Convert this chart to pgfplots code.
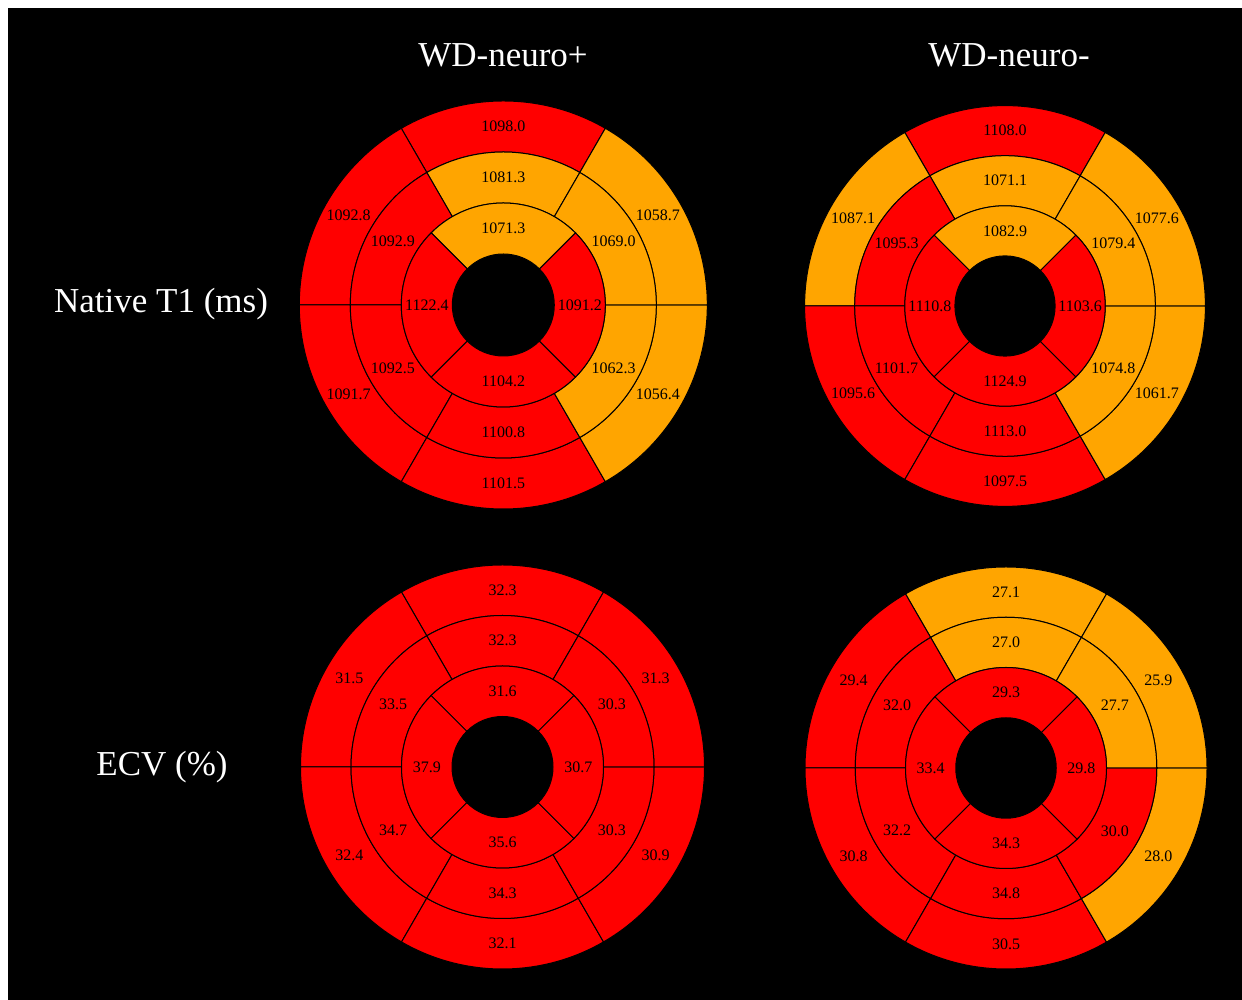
\documentclass[border=0pt]{standalone}
\usepackage{fontspec}
\setmainfont{Liberation Serif}
\usepackage{pgfplots}
\usepackage{pgfplotstable}
\pgfplotsset{compat=1.18}
\definecolor{segred}{RGB}{255,0,0}
\definecolor{segorange}{RGB}{255,165,0}
\newcommand\labfont{\fontsize{16}{19}\selectfont}
\newcommand\titfont{\fontsize{35}{40}\selectfont}

% AHA 16-segment bullseye: seg, ring (3=basal,2=mid,1=apical), start/end angle, values
\pgfplotstableread{
seg q a1 a2 t1p t1m ecvp ecvm
1 3 60 120 1098.0 1108.0 32.3 27.1
2 3 120 180 1092.8 1087.1 31.5 29.4
3 3 180 240 1091.7 1095.6 32.4 30.8
4 3 240 300 1101.5 1097.5 32.1 30.5
5 3 300 360 1056.4 1061.7 30.9 28.0
6 3 0 60 1058.7 1077.6 31.3 25.9
7 2 60 120 1081.3 1071.1 32.3 27.0
8 2 120 180 1092.9 1095.3 33.5 32.0
9 2 180 240 1092.5 1101.7 34.7 32.2
10 2 240 300 1100.8 1113.0 34.3 34.8
11 2 300 360 1062.3 1074.8 30.3 30.0
12 2 0 60 1069.0 1079.4 30.3 27.7
13 1 45 135 1071.3 1082.9 31.6 29.3
14 1 135 225 1122.4 1110.8 37.9 33.4
15 1 225 315 1104.2 1124.9 35.6 34.3
16 1 315 405 1091.2 1103.6 30.7 29.8
}\segtable

% #1 cx, #2 cy, #3 ring width, #4 ring index, #5 a1, #6 a2, #7 colour
\newcommand\drawseg[7]{%
  \filldraw[fill=#7, draw=black, line width=1pt]
    (axis cs:#1,#2) ++(#5:{#4*#3*1pt}) -- ++(#5:{#3*1pt})
    arc[start angle=#5, end angle=#6, radius={(#4+1)*#3*1pt}]
    -- ++({#6+180}:{#3*1pt})
    arc[start angle=#6, end angle=#5, radius={#4*#3*1pt}] -- cycle;
}
% #1 cx, #2 cy, #3 ring width, #4 column, #5 threshold
\newcommand\bullseye[5]{%
  \pgfplotsforeachungrouped \i in {0,...,15}{%
    \pgfplotstablegetelem{\i}{q}\of\segtable \let\sgq\pgfplotsretval
    \pgfplotstablegetelem{\i}{a1}\of\segtable \let\sga\pgfplotsretval
    \pgfplotstablegetelem{\i}{a2}\of\segtable \let\sgb\pgfplotsretval
    \pgfplotstablegetelem{\i}{#4}\of\segtable \let\sgv\pgfplotsretval
    \ifdim\sgv pt<#5pt \def\sgc{segorange}\else\def\sgc{segred}\fi
    \edef\sgcmd{\noexpand\drawseg{#1}{#2}{#3}{\sgq}{\sga}{\sgb}{\sgc}}\sgcmd
  }%
  \addplot[only marks, mark=none, nodes near coords, point meta=explicit symbolic,
    nodes near coords style={anchor=center, font=\labfont, text=black, inner sep=0pt}]
    table[x expr={#1+(\thisrow{q}+0.5)*#3*cos((\thisrow{a1}+\thisrow{a2})/2)},
          y expr={#2+(\thisrow{q}+0.5)*#3*sin((\thisrow{a1}+\thisrow{a2})/2)},
          meta=#4] {\segtable};
}

\begin{document}
\begin{tikzpicture}
\begin{axis}[x=1pt, y=1pt, xmin=0, xmax=1242, ymin=0, ymax=1000,
  hide axis, clip=false]
\fill[white] (axis cs:0,0) rectangle (axis cs:1242,1000);
\fill[black] (axis cs:8,0) rectangle (axis cs:1242,992);
\bullseye{503.3}{695}{51}{t1p}{1090}
\bullseye{1005}{694}{50.1}{t1m}{1090}
\bullseye{502.5}{233}{50.5}{ecvp}{29}
\bullseye{1006}{232}{50.25}{ecvm}{29}
\node[anchor=base, text=white, font=\titfont, inner sep=0pt] at (axis cs:503,933.5) {WD-neuro+};
\node[anchor=base, text=white, font=\titfont, inner sep=0pt] at (axis cs:1009,933.5) {WD-neuro-};
\node[anchor=base, text=white, font=\titfont, inner sep=0pt] at (axis cs:161,687) {Native T1 (ms)};
\node[anchor=base, text=white, font=\titfont, inner sep=0pt] at (axis cs:162,224) {ECV (\%)};
\end{axis}
\end{tikzpicture}
\end{document}
